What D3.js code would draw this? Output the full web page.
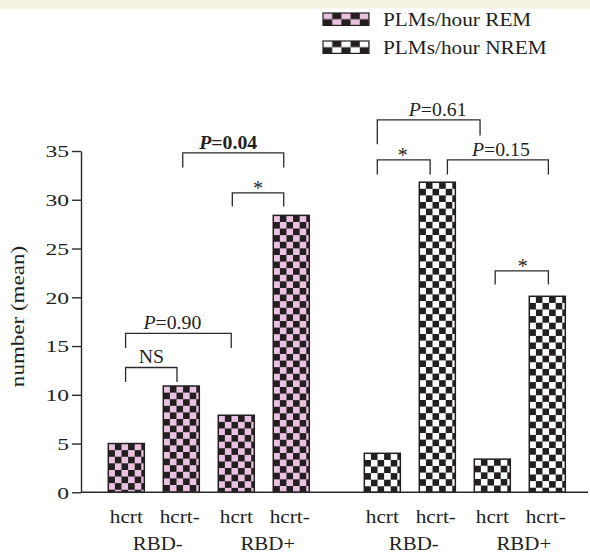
<!DOCTYPE html>
<html>
<head>
<meta charset="utf-8">
<script src="https://cdn.jsdelivr.net/npm/d3@7"></script>
<style>
  body { margin: 0; background: #fff; }
  svg { display: block; }
  text { font-family: "Liberation Serif", "Times New Roman", serif; fill: #231f20; }
</style>
</head>
<body>
<div id="chart"></div>
<script>
// ── data ──────────────────────────────────────────────
const series      = ['REM', 'NREM'];
const legendNames = ['PLMs/hour REM', 'PLMs/hour NREM'];
const barKeys     = ['a', 'b', 'c', 'd'];
const barLabels   = ['hcrt', 'hcrt-', 'hcrt', 'hcrt-'];
const rbdLabels   = ['RBD-', 'RBD+'];
const remValues   = [5.0, 10.9, 7.9, 28.4];
const nremValues  = [4.0, 31.8, 3.4, 20.1];
const yTicks      = [0, 5, 10, 15, 20, 25, 30, 35];

// comparison brackets: series, bar from/to, level, leg ends (data units)
const brackets = [
  { s: 0, from: 0, to: 1, y: 12.8, yl: 11.3, yr: 11.3, label: 'NS' },
  { s: 0, from: 0, to: 2, y: 16.3, yl: 14.8, yr: 14.8, label: 'P=0.90' },
  { s: 0, from: 1, to: 3, y: 34.8, yl: 33.3, yr: 33.3, label: 'P=0.04', bold: true },
  { s: 0, from: 2, to: 3, y: 30.7, yl: 29.3, yr: 29.3, label: '*' },
  { s: 1, from: 0, to: 2, y: 38.2, yl: 35.7, yr: 36.6, label: 'P=0.61' },
  { s: 1, from: 0, to: 1, y: 34.1, yl: 32.6, yr: 32.6, label: '*' },
  { s: 1, from: 1, to: 3, y: 34.1, yl: 32.6, yr: 32.6, label: 'P=0.15' },
  { s: 1, from: 2, to: 3, y: 22.7, yl: 21.3, yr: 21.3, label: '*' },
];
// where each bracket leg meets its bar (fraction of bar width) and label nudge
const bracketFrac = [[.48, .38], [.48, .36], [.54, .29], [.39, .29],
                     [.36, .16], [.36, .30], [.78, .53], [.58, .53]];
const labelNudge  = [0, -6, -5, 0, 9, -1, 3, 1];

// ── layout ────────────────────────────────────────────
const W = 590, H = 554;
const AX = 81;
const COLORS = { pink: '#e9c2df', dark: '#231f20', line: '#2b2b2b', white: '#ffffff' };

const svg = d3.select('#chart').append('svg').attr('width', W).attr('height', H);
svg.append('rect').attr('width', W).attr('height', 8.5).attr('fill', '#f5f1e3');

const y = d3.scaleLinear().domain([0, 35]).range([492.3, 151]);
const xOuter = d3.scaleBand().domain(series).range([108.3, 565.3]).paddingInner(0.215).paddingOuter(0);
const xInner = d3.scaleBand().domain(barKeys).range([0, xOuter.bandwidth()]).paddingInner(0.345).paddingOuter(0);
const barX = (s, i) => xOuter(series[s]) + xInner(barKeys[i]);
const bw = xInner.bandwidth();

const defs = svg.append('defs');
function checker(id, x0, y0, cw, ch, light) {
  const p = defs.append('pattern').attr('id', id).attr('patternUnits', 'userSpaceOnUse')
    .attr('x', x0).attr('y', y0).attr('width', cw * 2).attr('height', ch * 2);
  p.append('rect').attr('width', cw * 2).attr('height', ch * 2).attr('fill', light);
  p.append('rect').attr('x', cw).attr('y', 0).attr('width', cw).attr('height', ch).attr('fill', COLORS.dark);
  p.append('rect').attr('x', 0).attr('y', ch).attr('width', cw).attr('height', ch).attr('fill', COLORS.dark);
}

// text with horizontal stretch (the source type is set wide)
function label(g, x, y0, str, o = {}) {
  const t = g.append('text')
    .attr('transform', `translate(${x},${y0})${o.rot ? ` rotate(${o.rot})` : ''} scale(${o.sx || 1},1)`)
    .attr('text-anchor', o.anchor || 'middle')
    .attr('font-size', o.size || 18)
    .attr('font-weight', o.bold ? 'bold' : null);
  if (str.startsWith('P=')) {
    t.append('tspan').attr('font-style', 'italic').text('P');
    t.append('tspan').text(str.slice(1));
  } else t.text(str);
  return t;
}

// ── bars ──────────────────────────────────────────────
const rows = [];
[remValues, nremValues].forEach((vals, s) => vals.forEach((v, i) => rows.push({ s, i, v })));
rows.forEach((d, k) => checker('pat' + k, barX(d.s, d.i), y(d.v), 6.6, 6.6, d.s === 0 ? COLORS.pink : COLORS.white));

svg.append('g').selectAll('rect').data(rows).join('rect')
  .attr('x', d => barX(d.s, d.i))
  .attr('y', d => y(d.v))
  .attr('width', bw)
  .attr('height', d => y(0) - y(d.v))
  .attr('fill', (d, k) => `url(#pat${k})`)
  .attr('stroke', COLORS.dark)
  .attr('stroke-width', 1.5);

// ── axes ──────────────────────────────────────────────
const yAxis = svg.append('g').attr('transform', `translate(${AX},0)`)
  .call(d3.axisLeft(y).tickValues(yTicks).tickSize(9).tickSizeOuter(0).tickPadding(3));
yAxis.select('.domain').attr('stroke', COLORS.line).attr('stroke-width', 1.4);
yAxis.selectAll('.tick line').attr('stroke', COLORS.line).attr('stroke-width', 1.4);
yAxis.selectAll('.tick text')
  .attr('x', null).attr('dy', null)
  .attr('transform', 'translate(-12,5.8) scale(1.35,1)')
  .attr('font-size', 17.5)
  .attr('font-family', '"Liberation Serif", serif')
  .attr('fill', COLORS.dark);

svg.append('line')
  .attr('x1', AX).attr('x2', 588).attr('y1', y(0)).attr('y2', y(0))
  .attr('stroke', COLORS.line).attr('stroke-width', 1.4);

label(svg, 24, 316.5, 'number (mean)', { rot: -90, sx: 1.28, size: 18 });

const xl = svg.append('g');
rows.forEach(d => label(xl, barX(d.s, d.i) + bw / 2 - (d.i % 2 ? 1.5 : 0), 523, barLabels[d.i], { size: 19, sx: 1.12 }));
series.forEach((s, si) => [0, 1].forEach(pair => {
  const cx = (barX(si, pair * 2) + barX(si, pair * 2 + 1) + bw) / 2;
  label(xl, cx + 4, 550, rbdLabels[pair], { size: 19, sx: 1.1 });
}));

// ── brackets ──────────────────────────────────────────
const bg = svg.append('g').attr('fill', 'none').attr('stroke', COLORS.line).attr('stroke-width', 1.3);
const lg = svg.append('g');
brackets.forEach((b, k) => {
  const x1 = barX(b.s, b.from) + bracketFrac[k][0] * bw;
  const x2 = barX(b.s, b.to) + bracketFrac[k][1] * bw;
  bg.append('path').attr('d', `M${x1},${y(b.yl)}V${y(b.y)}H${x2}V${y(b.yr)}`);
  const cx = (x1 + x2) / 2 + labelNudge[k];
  if (b.label === '*') label(lg, cx, y(b.y) + 2, '*', { size: 20 });
  else label(lg, cx, y(b.y) - 4, b.label, { size: 18.5, sx: 1.07, bold: b.bold });
});

// ── legend ────────────────────────────────────────────
const leg = svg.append('g');
legendNames.forEach((name, i) => {
  const ly = 13 + i * 28;
  checker('leg' + i, 323, ly, 9.2, 6.2, i === 0 ? COLORS.pink : COLORS.white);
  leg.append('rect').attr('x', 323).attr('y', ly).attr('width', 46).attr('height', 12.4)
    .attr('fill', `url(#leg${i})`).attr('stroke', COLORS.dark).attr('stroke-width', 1.2);
  label(leg, 383, ly + 13, name, { anchor: 'start', size: 19, sx: 1.12 });
});
</script>
</body>
</html>
